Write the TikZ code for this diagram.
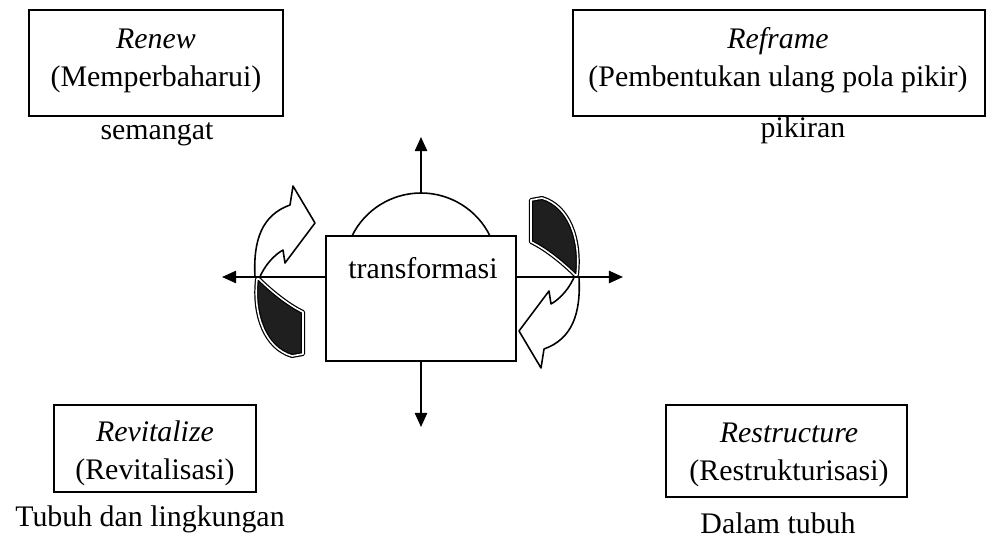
\documentclass[tikz,border=0pt]{standalone}
\usepackage{fontspec}
\setmainfont{Liberation Serif}
\usetikzlibrary{arrows.meta}
\newcommand{\twistpair}{%
  \draw[outl, fill=white] (255,277) .. controls (253,240) and (262,215) .. (290,205)
     -- (293,186) -- (315,223) -- (285,263) -- (283,250)
     .. controls (274,255) and (264,266) .. (259,279) -- cycle;
  \draw[line width=0.7pt, line join=round, fill=black!88, double=white, double distance=0.9pt]
     (257,279) .. controls (253,315) and (265,348) .. (292,356) -- (303,354) -- (303,312)
     .. controls (288,305) and (270,290) .. (259,279) -- cycle;
}
\begin{document}
\begin{tikzpicture}[x=0.02cm,y=-0.02cm,
  box/.style={draw, line width=1pt, inner sep=0pt},
  lbl/.style={font=\fontsize{17}{21.5}\selectfont, align=center, inner sep=0pt},
  arr/.style={line width=0.9pt, -{Triangle[length=8pt,width=7pt]}},
  outl/.style={line width=0.9pt, line join=round}]
\useasboundingbox (0,0) rectangle (989,540);

% boxes
\node[box, minimum width=5.08cm, minimum height=2.12cm] (renew) at (156,63) {};
\node[box, minimum width=8.24cm, minimum height=2.12cm] (reframe) at (779,63) {};
\node[box, minimum width=4.04cm, minimum height=1.74cm] (revit) at (155,448.5) {};
\node[box, minimum width=4.82cm, minimum height=1.84cm] (restr) at (786.5,451) {};
\node[box, minimum width=3.8cm, minimum height=2.5cm] (trans) at (421,298.5) {};

% texts
\node[lbl] (renewT) at (156,61) {\textit{Renew}\\(Memperbaharui)};
\node[lbl] (renewS) at (157,134) {semangat};
\node[lbl] (reframeT) at (778,60) {\textit{Reframe}\\(Pembentukan ulang pola pikir)};
\node[lbl] (reframeS) at (803,130) {pikiran};
\node[lbl] (revitT) at (155,453) {\textit{Revitalize}\\(Revitalisasi)};
\node[lbl] (revitS) at (150,519) {Tubuh dan lingkungan};
\node[lbl] (restrT) at (789,455) {\textit{Restructure}\\(Restrukturisasi)};
\node[lbl] (restrS) at (778,523) {Dalam tubuh};
\node[lbl] (transT) at (423,268) {transformasi};

% dome
\coordinate (domeL) at (352,236);
\coordinate (dtop) at (421,193);
\coordinate (domeR) at (490,236);
\draw[outl] (domeL) .. controls (364.7,209.7) and (391.8,193) .. (dtop)
  .. controls (450.2,193) and (477.3,209.7) .. (domeR);

% curved twisted arrows
\twistpair
\begin{scope}[rotate around={180:(417,277)}]
\twistpair
\end{scope}

% straight arrows
\coordinate (upT) at (421,137);
\coordinate (dnT) at (421,427);
\coordinate (lT) at (222,277);
\coordinate (rT) at (623,277);
\draw[arr] (dtop) -- (upT);
\draw[arr] (trans.south) -- (dnT);
\draw[arr] (trans.west |- lT) -- (lT);
\draw[arr] (trans.east |- rT) -- (rT);
\end{tikzpicture}
\end{document}
